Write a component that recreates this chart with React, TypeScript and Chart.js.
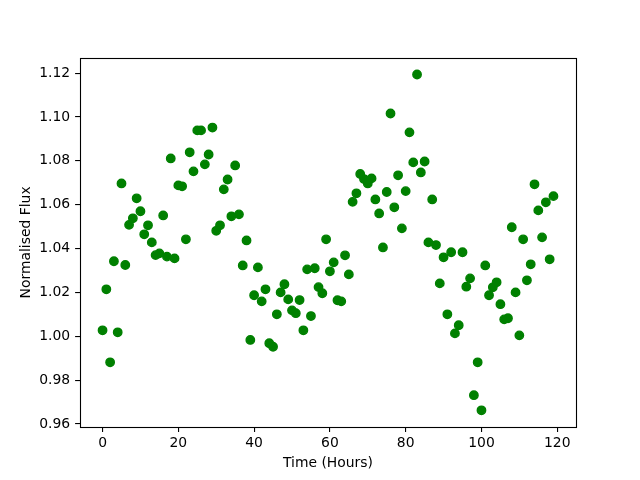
import React, { useEffect, useRef } from "react";
import { Chart, registerables } from "chart.js";

Chart.register(...registerables);

const hours = [
  0, 1, 2, 3, 4, 5, 6, 7, 8, 9, 10, 11, 12, 13, 14, 15, 16, 17, 18, 19,
  20, 21, 22, 23, 24, 25, 26, 27, 28, 29, 30, 31, 32, 33, 34, 35, 36, 37, 38, 39,
  40, 41, 42, 43, 44, 45, 46, 47, 48, 49, 50, 51, 52, 53, 54, 55, 56, 57, 58, 59,
  60, 61, 62, 63, 64, 65, 66, 67, 68, 69, 70, 71, 72, 73, 74, 75, 76, 77, 78, 79,
  80, 81, 82, 83, 84, 85, 86, 87, 88, 89, 90, 91, 92, 93, 94, 95, 96, 97, 98, 99,
  100, 101, 102, 103, 104, 105, 106, 107, 108, 109, 110, 111, 112, 113, 114, 115, 116, 117, 118, 119,
];

const flux = [
  1.0027, 1.0214, 0.9881, 1.0342, 1.0018, 1.0697, 1.0325, 1.0508, 1.0538, 1.0629,
  1.057, 1.0465, 1.0506, 1.0428, 1.037, 1.0378, 1.0551, 1.0363, 1.0811, 1.0355,
  1.0688, 1.0684, 1.0442, 1.0839, 1.0752, 1.0939, 1.0939, 1.0784, 1.0829, 1.0952,
  1.0481, 1.0506, 1.067, 1.0715, 1.0547, 1.0779, 1.0556, 1.0323, 1.0437, 0.9983,
  1.0187, 1.0314, 1.0159, 1.0214, 0.9968, 0.9952, 1.01, 1.02, 1.0237, 1.0168,
  1.0118, 1.0105, 1.0165, 1.0027, 1.0305, 1.0092, 1.031, 1.0224, 1.0196, 1.0442,
  1.0296, 1.0337, 1.0164, 1.0159, 1.0369, 1.0282, 1.0613, 1.0652, 1.074, 1.0717,
  1.0697, 1.072, 1.0624, 1.056, 1.0405, 1.0658, 1.1016, 1.0588, 1.0734, 1.0492,
  1.0662, 1.093, 1.0793, 1.1194, 1.0747, 1.0797, 1.0428, 1.0624, 1.0416, 1.0241,
  1.036, 1.01, 1.0383, 1.0013, 1.005, 1.0383, 1.0226, 1.0264, 0.9731, 0.9881,
  0.9662, 1.0323, 1.0187, 1.0223, 1.0246, 1.0146, 1.0077, 1.0082, 1.0497, 1.02,
  1.0004, 1.0442, 1.0255, 1.0328, 1.0693, 1.0574, 1.0451, 1.0611, 1.0351, 1.0639,
];

const xTickValues = [0, 20, 40, 60, 80, 100, 120];
const yTickValues = [0.96, 0.98, 1.0, 1.02, 1.04, 1.06, 1.08, 1.1, 1.12];

const xTitle = "Time (Hours)";
const yTitle = "Normalised Flux";

const FONT = "'DejaVu Sans', sans-serif";

const framePlugin = {
  id: "frame",
  afterDraw(chart: any) {
    const { ctx, chartArea } = chart;
    ctx.save();
    ctx.strokeStyle = "#000";
    ctx.lineWidth = 1.1;
    ctx.strokeRect(
      Math.round(chartArea.left) + 0.5,
      Math.round(chartArea.top) + 0.5,
      Math.round(chartArea.right) - Math.round(chartArea.left),
      Math.round(chartArea.bottom) - Math.round(chartArea.top)
    );
    ctx.restore();
  },
};

export default function App() {
  const ref = useRef<HTMLCanvasElement | null>(null);

  useEffect(() => {
    if (!ref.current) return;
    const points = hours.map((h, i) => ({ x: h, y: flux[i] }));
    const chart = new Chart(ref.current, {
      type: "scatter",
      data: {
        datasets: [
          {
            data: points,
            backgroundColor: "#008000",
            borderColor: "#008000",
            pointRadius: 4.2,
            pointBorderWidth: 1.4,
            pointHoverRadius: 4.2,
          },
        ],
      },
      options: {
        animation: false,
        responsive: false,
        events: [],
        layout: { padding: { left: 0, right: 64, top: 57.6, bottom: 0 } },
        plugins: {
          legend: { display: false },
          tooltip: { enabled: false },
          title: { display: false },
        },
        scales: {
          x: {
            type: "linear",
            min: -5.95,
            max: 124.95,
            afterBuildTicks: (scale: any) => {
              scale.ticks = xTickValues.map((v) => ({ value: v }));
            },
            afterFit: (scale: any) => {
              scale.height = 52.8;
            },
            grid: {
              display: true,
              drawOnChartArea: false,
              drawTicks: true,
              tickLength: 4.9,
              color: "#000",
              lineWidth: 1.1,
            },
            border: { display: false },
            ticks: {
              color: "#000",
              font: { family: FONT, size: 13.9 },
              padding: 3,
              maxRotation: 0,
              callback: (v: any) => String(v),
            },
            title: {
              display: true,
              text: xTitle,
              color: "#000",
              font: { family: FONT, size: 13.9 },
              padding: { top: 0, bottom: 8.5 },
            },
          },
          y: {
            type: "linear",
            min: 0.9585,
            max: 1.1271,
            afterBuildTicks: (scale: any) => {
              scale.ticks = yTickValues.map((v) => ({ value: v }));
            },
            afterFit: (scale: any) => {
              scale.width = 80;
            },
            grid: {
              display: true,
              drawOnChartArea: false,
              drawTicks: true,
              tickLength: 4.9,
              color: "#000",
              lineWidth: 1.1,
            },
            border: { display: false },
            ticks: {
              color: "#000",
              font: { family: FONT, size: 13.9 },
              padding: 4.9,
              callback: (v: any) => Number(v).toFixed(2),
            },
            title: {
              display: true,
              text: yTitle,
              color: "#000",
              font: { family: FONT, size: 13.9 },
              padding: { top: 18.5, bottom: 0 },
            },
          },
        },
      },
      plugins: [framePlugin],
    });
    return () => chart.destroy();
  }, []);

  return (
    <div style={{ position: "fixed", left: 0, top: 0, width: 640, height: 480, background: "#fff" }}>
      <canvas ref={ref} width={640} height={480} style={{ width: 640, height: 480 }} />
    </div>
  );
}
